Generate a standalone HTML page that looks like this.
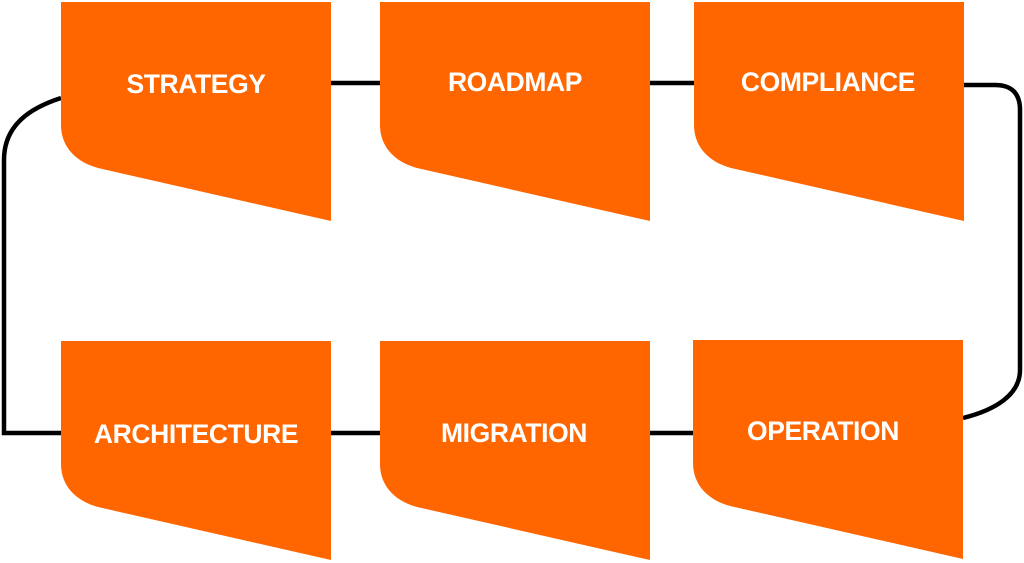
<!DOCTYPE html>
<html><head><style>
html,body{margin:0;padding:0;background:#fff;width:1024px;height:563px;overflow:hidden}
svg text{font-family:"Liberation Sans",sans-serif;font-weight:bold;font-size:26.5px;fill:#fff;text-anchor:middle;dominant-baseline:central;letter-spacing:-0.4px}
</style></head><body>
<svg width="1024" height="563" viewBox="0 0 1024 563" xmlns="http://www.w3.org/2000/svg">
<g fill="none" stroke="#000" stroke-width="4.5">
<path d="M331,83 H380 M649,83 H695 M331,433 H380 M649,433 H695"/>
<path d="M61,98 C30,108 4,125 4,160 V433 H61"/>
<path d="M963,85 H995 Q1020,85 1020,110 V370 C1020,395 995,410 963,418"/>
</g>
<defs>
<path id="s" d="M0,0 H270 V219 L37,166 C15,160 0,145 0,123 Z" fill="#ff6600"/>
</defs>
<use href="#s" x="61" y="2"/>
<use href="#s" x="380" y="2"/>
<use href="#s" x="694" y="2"/>
<use href="#s" x="61" y="341"/>
<use href="#s" x="380" y="341"/>
<use href="#s" x="693" y="340"/>
<text x="196" y="84">STRATEGY</text>
<text x="515" y="82">ROADMAP</text>
<text x="828" y="82">COMPLIANCE</text>
<text x="196" y="434">ARCHITECTURE</text>
<text x="514" y="433">MIGRATION</text>
<text x="823" y="431">OPERATION</text>
</svg>
</body></html>
